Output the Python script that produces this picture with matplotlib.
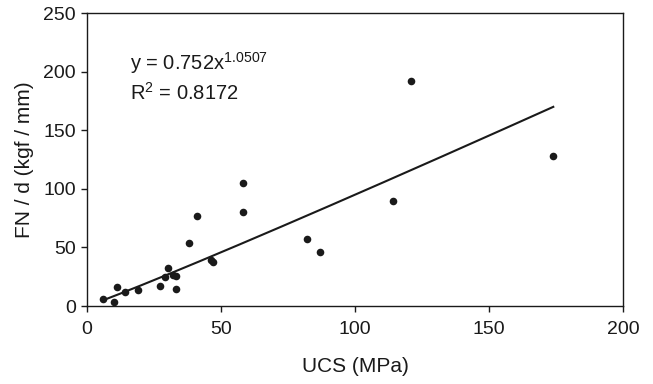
import numpy as np
import matplotlib
matplotlib.use('Agg')
import matplotlib.pyplot as plt

plt.rcParams['font.family'] = ['Liberation Sans', 'DejaVu Sans']

# UCS (MPa) vs FN/d (kgf/mm)
ucs = [6.1, 10.1, 11.1, 14.2, 19.2, 27.1, 29.1, 30.1, 32.1, 33.2, 33.1,
       38.2, 41.0, 46.2, 47.1, 58.1, 58.1, 82.1, 87.1, 114.1, 121.0, 173.9]
fnd = [6.0, 3.7, 16.0, 12.0, 14.0, 16.8, 24.7, 32.7, 26.7, 25.6, 14.8,
       53.8, 77.0, 39.5, 37.5, 105.0, 80.0, 56.9, 46.0, 89.9, 192.2, 128.0]

# power fit y = a x^b
a, b = 0.752, 1.0507
fit_x = np.linspace(6, 174, 200)
fit_y = a * fit_x ** b

fig = plt.figure(figsize=(6.53, 3.84), dpi=100)
ax = fig.add_axes([0.1332, 0.203, 0.8208, 0.763])

ax.scatter(ucs, fnd, s=30, color='#1a1a1a', zorder=3, linewidths=0)
ax.plot(fit_x, fit_y, color='#1a1a1a', lw=1.5)

ax.set_xlim(0, 200)
ax.set_ylim(0, 250)
ax.set_xticks([0, 50, 100, 150, 200])
ax.set_yticks([0, 50, 100, 150, 200, 250])
ax.tick_params(direction='out', length=4, width=1, labelsize=14, colors='#1a1a1a')
ax.tick_params(axis='x', pad=6.5)
ax.tick_params(axis='y', pad=4)
for s in ax.spines.values():
    s.set_linewidth(1.0)
    s.set_color('#1a1a1a')

ax.set_xlabel('UCS (MPa)', fontsize=15, labelpad=14, color='#1a1a1a')
ax.set_ylabel('FN / d (kgf / mm)', fontsize=15, labelpad=7, color='#1a1a1a')

ax.text(16, 207, r'y = 0.752x$^{\mathregular{1.0507}}$', fontsize=14.5,
        va='center', color='#1a1a1a')
ax.text(16, 182, r'R$^{\mathregular{2}}$ = 0.8172', fontsize=14.5,
        va='center', color='#1a1a1a')

fig.savefig('out.png', dpi=100)
